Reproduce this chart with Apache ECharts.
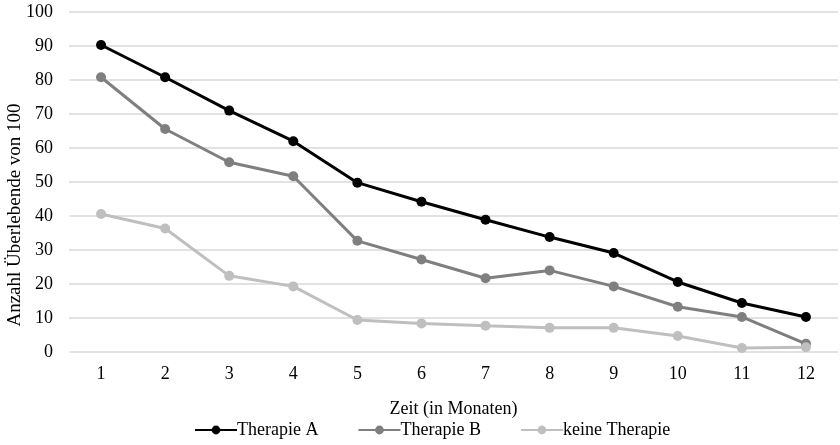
<!DOCTYPE html>
<html><head><meta charset="utf-8">
<script src="https://cdn.jsdelivr.net/npm/echarts@6/dist/echarts.min.js"></script>
<style>html,body{margin:0;padding:0;background:#fff}#c{width:840px;height:445px}</style>
</head><body><div id="c"></div>
<script>
const months = ['1','2','3','4','5','6','7','8','9','10','11','12'];
const therapieA = [90.3, 80.8, 71, 62, 49.8, 44.2, 38.9, 33.8, 29.1, 20.6, 14.4, 10.3];
const therapieB = [80.8, 65.6, 55.8, 51.7, 32.7, 27.2, 21.7, 24, 19.3, 13.3, 10.3, 2.4];
const keine = [40.6, 36.3, 22.4, 19.3, 9.4, 8.4, 7.7, 7.1, 7.1, 4.7, 1.2, 1.4];
const font = 'Liberation Serif';
const chart = echarts.init(document.getElementById('c'));
function ser(name, data, color) {
  return {name, type: 'line', data, symbol: 'circle', symbolSize: 10,
    lineStyle: {width: 3, color}, itemStyle: {color}, z: 2};
}
chart.setOption({
  animation: false,
  textStyle: {fontFamily: font},
  grid: {left: 69, right: 2, top: 12, bottom: 93, containLabel: false, outerBoundsMode: 'none'},
  xAxis: {type: 'category', data: months, boundaryGap: true,
    name: 'Zeit (in Monaten)', nameLocation: 'middle', nameGap: 48, nameMoveOverlap: false,
    nameTextStyle: {fontFamily: font, fontSize: 18, color: '#000'},
    axisLine: {show: false}, axisTick: {show: false},
    axisLabel: {fontFamily: font, fontSize: 18, color: '#000', margin: 13}},
  yAxis: {type: 'value', min: 0, max: 100, interval: 10,
    name: 'Anzahl Überlebende von 100', nameLocation: 'middle', nameGap: 44, nameMoveOverlap: false,
    nameTextStyle: {fontFamily: font, fontSize: 19, color: '#000', padding: [0, 66, 0, 0]},
    axisLine: {show: false}, axisTick: {show: false},
    axisLabel: {fontFamily: font, fontSize: 18, color: '#000', margin: 16},
    splitLine: {lineStyle: {color: '#d9d9d9', width: 1.5}}},
  legend: {bottom: 1, left: 189, itemWidth: 42, itemHeight: 11, itemGap: 39,
    textStyle: {fontFamily: font, fontSize: 18, color: '#000', padding: [0,0,0,-5]},
    data: ['Therapie A', 'Therapie B', 'keine Therapie']},
  series: [ser('Therapie A', therapieA, '#000000'),
           ser('Therapie B', therapieB, '#7f7f7f'),
           ser('keine Therapie', keine, '#bfbfbf')]
});
</script></body></html>
